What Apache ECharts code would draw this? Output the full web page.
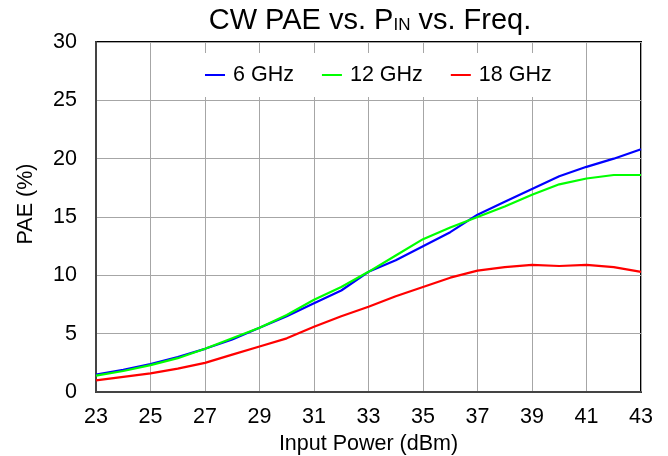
<!DOCTYPE html>
<html>
<head>
<meta charset="utf-8">
<script src="https://cdn.jsdelivr.net/npm/echarts@6/dist/echarts.min.js"></script>
<style>
html, body { margin: 0; padding: 0; background: #fff; }
#main { width: 668px; height: 456px; }
</style>
</head>
<body>
<div id="main"></div>
<script>
// input power, dBm
var pin = [23,24,25,26,27,28,29,30,31,32,33,34,35,36,37,38,39,40,41,42,43];
// PAE (%) per frequency
var pae6 = [1.5,1.9,2.4,3.0,3.7,4.5,5.5,6.5,7.6,8.7,10.3,11.3,12.5,13.7,15.2,16.3,17.4,18.5,19.3,20.0,20.8];
var pae12 = [1.4,1.8,2.3,2.9,3.7,4.6,5.5,6.6,7.9,9.0,10.3,11.7,13.1,14.1,15.0,15.9,16.9,17.8,18.3,18.6,18.6];
var pae18 = [1.0,1.3,1.6,2.0,2.5,3.2,3.9,4.6,5.6,6.5,7.3,8.2,9.0,9.8,10.4,10.7,10.9,10.8,10.9,10.7,10.3];
var names = ['6 GHz', '12 GHz', '18 GHz'];
var colors = ['#0000ff', '#00ff00', '#ff0000'];

function pairs(ys) {
	var out = [];
	for (var i = 0; i < pin.length; i++) {
		out.push([pin[i], ys[i]]);
	}
	return out;
}

var myChart = echarts.init(document.getElementById('main'));
var font = 'Liberation Sans, Arial, sans-serif';

var series = [pae6, pae12, pae18].map(function (ys, i) {
	return {
		name: names[i],
		type: 'line',
		data: pairs(ys),
		showSymbol: false,
		symbol: 'none',
		color: colors[i],
		lineStyle: { width: 2.2, color: colors[i] },
		animation: false
	};
});

var option = {
	backgroundColor: '#fff',
	title: {
		text: 'CW PAE vs. P{sub|IN} vs. Freq.',
		left: 365,
		textAlign: 'center',
		top: 1,
		textStyle: {
			fontFamily: font,
			fontSize: 29,
			fontWeight: 'normal',
			color: '#000',
			rich: {
				sub: { fontFamily: font, fontSize: 17, color: '#000', padding: [9, 0, 0, 0] }
			}
		}
	},
	legend: {
		data: names,
		top: 53,
		left: 190,
		icon: 'rect',
		itemWidth: 20,
		itemHeight: 2,
		itemGap: 28,
		backgroundColor: '#fff',
		padding: [11, 13, 11, 15],
		textStyle: { fontFamily: font, fontSize: 21.5, color: '#000', padding: [0, 0, 0, 3] }
	},
	grid: {
		left: 96,
		right: 27,
		top: 42,
		bottom: 64,
		outerBoundsMode: 'none',
		show: true,
		borderColor: '#000',
		borderWidth: 2
	},
	xAxis: {
		type: 'value',
		min: 23,
		max: 43,
		interval: 2,
		name: 'Input Power (dBm)',
		nameLocation: 'middle',
		nameGap: 37,
		nameTextStyle: { fontFamily: font, fontSize: 21.5, color: '#000' },
		axisLine: { lineStyle: { color: '#444', width: 2 } },
		axisTick: { show: false },
		axisLabel: { fontFamily: font, fontSize: 21.5, color: '#000', margin: 14 },
		splitLine: { lineStyle: { color: '#a6a6a6', width: 1 } }
	},
	yAxis: {
		type: 'value',
		min: 0,
		max: 30,
		interval: 5,
		name: 'PAE (%)',
		nameLocation: 'middle',
		nameGap: 59,
		nameTextStyle: { fontFamily: font, fontSize: 21.5, color: '#000', padding: [0, 0, 0, 26] },
		axisLine: { show: true, lineStyle: { color: '#444', width: 2 } },
		axisTick: { show: false },
		axisLabel: { fontFamily: font, fontSize: 21.5, color: '#000', margin: 19 },
		splitLine: { lineStyle: { color: '#a6a6a6', width: 1 } }
	},
	series: series
};

myChart.setOption(option, true);
</script>
</body>
</html>
